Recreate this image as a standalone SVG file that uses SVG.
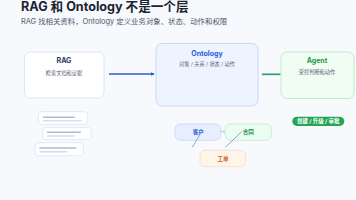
<svg xmlns="http://www.w3.org/2000/svg" width="356" height="200" viewBox="0 0 356 200">
<style>
text{font-family:Inter,"Noto Sans CJK SC","Noto Sans",sans-serif}
.h1{font-size:12.6px;font-weight:700;fill:#1b2333}
.sub{font-size:7.4px;fill:#4d5668}
.t{font-size:7px;font-weight:700;text-anchor:middle}
.d{font-size:5.2px;fill:#5a6272;text-anchor:middle}
.card{fill:#fff;stroke:#dbe4f1;stroke-width:0.8}
.ld{stroke:#a9bdd8;stroke-width:1.6;stroke-linecap:round}
.ll{stroke:#d4dde9;stroke-width:1.4;stroke-linecap:round}
.ent{font-size:5.6px;font-weight:700;text-anchor:middle}
</style>
<defs>
<marker id="ah" viewBox="0 0 6 6" refX="5" refY="3" markerWidth="4" markerHeight="4" orient="auto" markerUnits="userSpaceOnUse">
<path d="M0,0 L6,3 L0,6 z" fill="#2d5bd6"/>
</marker>
</defs>
<rect width="356" height="200" fill="#f7f9fd"/>
<text class="h1" x="21" y="11.2">RAG 和 Ontology 不是一个层</text>
<text class="sub" x="21" y="23.5">RAG 找相关资料，Ontology 定义业务对象、状态、动作和权限</text>

<g id="connectors">
<line x1="109" y1="74" x2="154" y2="74" stroke="#2d5bd6" stroke-width="1.6" marker-end="url(#ah)"/>
<line x1="262" y1="74.3" x2="280.5" y2="74.3" stroke="#1ea35a" stroke-width="1.6"/>
<line x1="220.7" y1="131.5" x2="225.5" y2="131.5" stroke="#c5d5ee" stroke-width="2"/>
</g>

<g id="rag">
<rect x="24.5" y="52" width="79.5" height="46" rx="6" fill="#fff" stroke="#d6e2f5" stroke-width="0.8"/>
<text class="t" x="64" y="63" fill="#2b3b63">RAG</text>
<text class="d" x="64" y="74.5">检索文档和证据</text>
</g>

<g id="ontology">
<rect x="156" y="43.5" width="102" height="62.5" rx="6" fill="#eef4ff" stroke="#bcd3f7" stroke-width="0.8"/>
<text class="t" x="207" y="55.5" fill="#2a5bd7">Ontology</text>
<text class="d" x="207" y="66">对象 / 关系 / 状态 / 动作</text>
</g>

<g id="agent">
<rect x="281" y="52" width="73" height="46.5" rx="6" fill="#effdf3" stroke="#aee9bf" stroke-width="0.8"/>
<text class="t" x="317" y="63.3" fill="#1f9a4a">Agent</text>
<text class="d" x="317" y="74">受控判断和动作</text>
</g>

<g id="badge">
<rect x="292.3" y="116.7" width="52" height="9.2" rx="4.6" fill="#22a653"/>
<text x="318.3" y="123.2" font-size="5.5" font-weight="700" fill="#fff" text-anchor="middle">创建 / 升级 / 审批</text>
</g>

<g id="docs">
<rect class="card" x="38.3" y="111.7" width="49.4" height="12.6" rx="3.5"/>
<line class="ld" x1="43.5" y1="117.3" x2="74" y2="117.3"/>
<line class="ll" x1="43.5" y1="120.7" x2="81" y2="120.7"/>
<rect class="card" x="42.7" y="127.3" width="48.6" height="12.4" rx="3.5"/>
<line class="ld" x1="47.5" y1="132.3" x2="80.3" y2="132.3"/>
<line class="ll" x1="47.5" y1="136" x2="74.3" y2="136"/>
<rect class="card" x="35" y="142.7" width="48.3" height="13" rx="3.5"/>
<line class="ld" x1="40" y1="148" x2="75.7" y2="148"/>
<line class="ll" x1="40" y1="151.7" x2="66.7" y2="151.7"/>
</g>

<g id="kehu">
<rect x="175" y="124" width="45.7" height="16.3" rx="5" fill="#e6eeff" stroke="#c8d7f5" stroke-width="0.8"/>
<text class="ent" x="198.3" y="133.8" fill="#2a5bd7">客户</text>
</g>
<g id="hetong">
<rect x="225.3" y="124" width="46" height="16.3" rx="5" fill="#ebfdf0" stroke="#c2ecd0" stroke-width="0.8"/>
<text class="ent" x="248.3" y="133.8" fill="#2a8a4a">合同</text>
</g>
<g id="gongdan">
<rect x="200" y="150.3" width="45.7" height="16.4" rx="5" fill="#fff4e8" stroke="#f1dcc4" stroke-width="0.8"/>
<text class="ent" x="223" y="160.5" fill="#c8621a">工单</text>
</g>

<g id="links">
<line x1="201.7" y1="131.7" x2="192.3" y2="147.3" stroke="#7a9bd6" stroke-width="0.9"/>
<line x1="241.7" y1="131.7" x2="225.3" y2="147.3" stroke="#7a9bd6" stroke-width="0.9"/>
</g>
</svg>
